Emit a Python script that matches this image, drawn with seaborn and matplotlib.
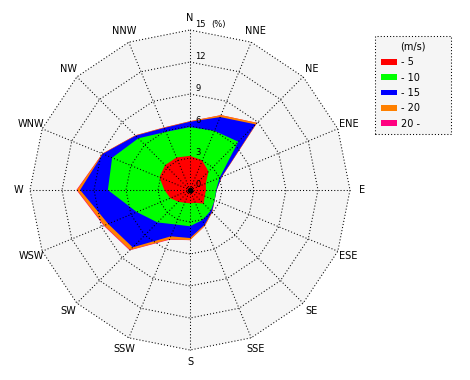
import numpy as np
import seaborn as sns
import matplotlib
matplotlib.use('Agg')
from matplotlib import pyplot as plt
from matplotlib.patches import Patch

# wind directions, clockwise from north
directions = ['N', 'NNE', 'NE', 'ENE', 'E', 'ESE', 'SE', 'SSE',
              'S', 'SSW', 'SW', 'WSW', 'W', 'WNW', 'NW', 'NNW']

# frequency (%) of each speed class per direction
freq_0_5 = [3.2, 3.0, 2.45, 1.6, 1.5, 1.5, 1.8, 1.3,
            1.25, 1.3, 1.55, 2.0, 2.4, 3.1, 3.3, 3.3]
freq_5_10 = [2.7, 3.0, 3.95, 1.4, 0.95, 1.0, 0.95, 1.75,
             2.15, 2.2, 2.75, 3.4, 5.3, 4.8, 3.55, 2.6]
freq_10_15 = [0.5, 1.4, 2.3, 0.2, 0.05, 0.0, 0.15, 0.5,
              1.1, 1.2, 3.3, 2.9, 2.6, 0.95, 0.35, 0.4]
freq_15_20 = [0.05, 0.2, 0.2, 0.05, 0.0, 0.0, 0.05, 0.1,
              0.2, 0.3, 0.35, 0.4, 0.3, 0.05, 0.05, 0.05]
freq_20_up = [0.0, 0.0, 0.0, 0.0, 0.0, 0.0, 0.0, 0.0,
              0.0, 0.05, 0.05, 0.05, 0.05, 0.0, 0.0, 0.0]

speed_labels = ['- 5', '- 10', '- 15', '- 20', '20 -']
speed_colors = ['#ff0000', '#00ff00', '#0000ff', '#ff8000', '#ff0080']
ring_ticks = [0, 3, 6, 9, 12, 15]

sns.set_style('white')
plt.rcParams['font.family'] = ['DejaVu Sans']
plt.rcParams['text.color'] = 'black'

px = 10.667  # pixels per percent
fig = plt.figure(figsize=(4.7, 3.8), dpi=100)
ax = fig.add_axes([0, 0, 1, 1])
ax.set_xlim(-190 / px, 280 / px)
ax.set_ylim(-190 / px, 190 / px)
ax.set_aspect('equal')
ax.axis('off')

theta = np.deg2rad(np.arange(len(directions)) * 22.5)


def to_xy(r):
    r = np.append(r, r[0])
    t = np.append(theta, theta[0])
    return r * np.sin(t), r * np.cos(t)


r_max = ring_ticks[-1]
bx, by = to_xy(np.full(len(directions), float(r_max)))
ax.fill(bx, by, color='#f5f5f5', lw=0, zorder=0)

cum = np.cumsum([freq_0_5, freq_5_10, freq_10_15, freq_15_20, freq_20_up], axis=0)
for k in reversed(range(len(speed_labels))):
    x, y = to_xy(cum[k])
    ax.fill(x, y, color=speed_colors[k], lw=0, zorder=1)

dots = dict(color='black', lw=0.75, linestyle=(0, (1, 2)), zorder=2)
for r in ring_ticks[1:]:
    x, y = to_xy(np.full(len(directions), float(r)))
    ax.plot(x, y, **dots)
for t in theta:
    ax.plot([0, r_max * np.sin(t)], [0, r_max * np.cos(t)], **dots)
ax.plot([0], [0], 'o', color='black', ms=3, zorder=3)

for r in ring_ticks:
    ax.text(0.5, r + 0.1, str(r), fontsize=6, ha='left', va='bottom', zorder=4)
ax.text(2.0, r_max + 0.1, '(%)', fontsize=6, ha='left', va='bottom')

for name, t in zip(directions, theta):
    ax.text(16.1 * np.sin(t), 16.1 * np.cos(t), name, fontsize=7,
            ha='center', va='center')

handles = [Patch(facecolor=c, edgecolor='none') for c in speed_colors]
leg = fig.legend(handles, speed_labels, title='(m/s)', loc='upper left',
                 bbox_to_anchor=(375 / 470, 1 - 132 / 380, 76 / 470, 96 / 380),
                 mode='expand', frameon=True, fancybox=False, edgecolor='black',
                 facecolor='#f5f5f5', framealpha=1, fontsize=7, title_fontsize=7,
                 handlelength=1.65, handleheight=0.5, handletextpad=0.4,
                 labelspacing=0.55, borderpad=0.6, borderaxespad=0)
frame = leg.get_frame()
frame.set_linestyle((0, (1, 2)))
frame.set_linewidth(0.75)

fig.savefig('out.png', dpi=100)
